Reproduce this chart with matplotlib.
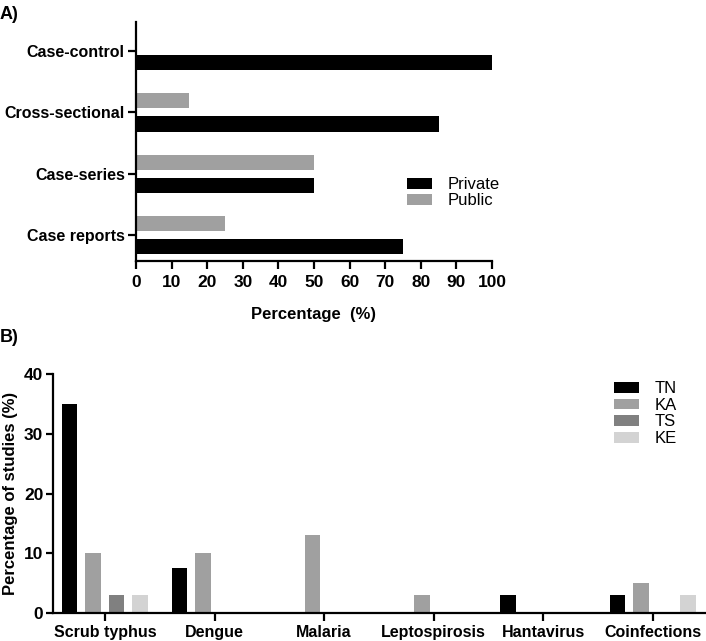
import numpy as np
import matplotlib
matplotlib.use("Agg")
import matplotlib.pyplot as plt

plt.rcParams["font.family"] = ["Liberation Sans", "DejaVu Sans"]

# panel A: study design by sector
designs = ["Case reports", "Case-series", "Cross-sectional", "Case-control"]
private = [75, 50, 85, 100]
public = [25, 50, 15, 0]

# panel B: infections by state
infections = ["Scrub typhus", "Dengue", "Malaria", "Leptospirosis", "Hantavirus", "Coinfections"]
states = ["TN", "KA", "TS", "KE"]
tn = [35, 7.5, 0, 0, 3, 3]
ka = [10, 10, 13, 3, 0, 5]
ts = [3, 0, 0, 0, 0, 0]
ke = [3, 0, 0, 0, 0, 3]

C_PRIV = "#000000"
C_PUB = "#a0a0a0"
STATE_COLORS = ["#000000", "#a0a0a0", "#808080", "#d3d3d3"]

fig = plt.figure(figsize=(7.06, 6.41), dpi=100)


def style(ax):
    for s in ("top", "right"):
        ax.spines[s].set_visible(False)
    for s in ("left", "bottom"):
        ax.spines[s].set_linewidth(1.6)
    ax.tick_params(width=1.6, length=6)


LEG = dict(frameon=False, fontsize=12, handlelength=1.5, handleheight=0.6,
           handletextpad=0.9, borderpad=0)

# ---- A ----
axA = fig.add_axes([0.1926, 0.5928, 0.5043, 0.3729])
y = np.arange(len(designs))
axA.barh(y - 0.19, private, height=0.245, color=C_PRIV, label="Private")
axA.barh(y + 0.19, public, height=0.245, color=C_PUB, label="Public")
axA.set_xlim(0, 100)
axA.set_ylim(-0.42, 3.47)
axA.set_xticks(range(0, 101, 10))
axA.set_yticks(y)
axA.set_yticklabels(designs, fontweight="bold", fontsize=11.5)
for t in axA.get_xticklabels():
    t.set_fontweight("bold")
    t.set_fontsize(12.5)
axA.set_xlabel("Percentage  (%)", fontweight="bold", fontsize=12, labelpad=12)
style(axA)
axA.tick_params(axis="x", pad=4)
axA.tick_params(axis="y", pad=2)
axA.legend(loc="center left", bbox_to_anchor=(0.739, 0.285), labelspacing=0.05, **LEG)
fig.text(0.0, 0.978, "A)", fontweight="bold", fontsize=13, va="center")

# ---- B ----
axB = fig.add_axes([0.0751, 0.0437, 0.9249, 0.3728])
x = np.arange(len(infections))
step = 0.2144
for i, (vals, lab) in enumerate(zip([tn, ka, ts, ke], states)):
    axB.bar(x + (i - 1.5) * step, vals, width=0.141, color=STATE_COLORS[i], label=lab)
axB.set_xlim(-0.474, 5.484)
axB.set_ylim(0, 40)
axB.set_yticks(range(0, 41, 10))
axB.set_xticks(x)
axB.set_xticklabels(infections, fontweight="bold", fontsize=11.5)
for t in axB.get_yticklabels():
    t.set_fontweight("bold")
    t.set_fontsize(12.5)
axB.set_ylabel("Percentage of studies (%)", fontweight="bold", fontsize=12, labelpad=4)
style(axB)
axB.tick_params(axis="y", length=5, pad=2)
axB.tick_params(axis="x", pad=3)
axB.legend(loc="upper left", bbox_to_anchor=(0.847, 1.005), labelspacing=0.1, **LEG)
fig.text(0.0, 0.473, "B)", fontweight="bold", fontsize=13, va="center")

fig.savefig("out.png", dpi=100)
